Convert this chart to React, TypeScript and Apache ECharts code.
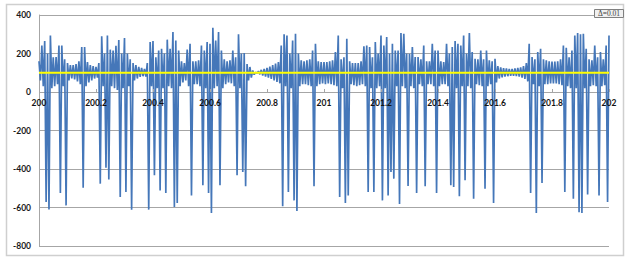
import React, { useEffect, useRef } from "react";
import * as echarts from "echarts";

// x grid: starts at 200, step 0.01 (upper sample at x, lower sample half a step later)
const X_START = 200;
const X_STEP = 0.01;
const xTicks = [200, 200.2, 200.4, 200.6, 200.8, 201, 201.2, 201.4, 201.6, 201.8, 202];
const yTicks = [-800, -600, -400, -200, 0, 200, 400];
const refLevel = 100;
const deltaLabel = "Δ=0.01";

const hi = [
  160, 242, 265, 200, 294, 180, 182, 242, 242, 170,
  150, 140, 140, 145, 160, 234, 234, 155, 140, 135,
  130, 150, 290, 200, 294, 220, 215, 240, 270, 200,
  280, 200, 170, 150, 140, 130, 125, 120, 150, 260,
  265, 180, 216, 225, 200, 272, 225, 312, 268, 216,
  160, 150, 220, 251, 160, 160, 165, 242, 216, 260,
  251, 334, 268, 312, 216, 170, 160, 165, 216, 180,
  300, 200, 203, 145, 130, 112, 102, 108, 115, 120,
  125, 132, 140, 148, 155, 242, 300, 294, 200, 268,
  303, 200, 165, 160, 165, 170, 216, 251, 160, 155,
  155, 155, 160, 165, 208, 294, 170, 180, 277, 160,
  150, 150, 150, 160, 237, 242, 234, 180, 260, 200,
  294, 242, 286, 200, 251, 216, 216, 306, 303, 200,
  199, 234, 182, 182, 170, 242, 160, 160, 251, 216,
  216, 160, 155, 251, 200, 234, 265, 251, 242, 294,
  200, 306, 208, 173, 170, 216, 170, 216, 165, 160,
  173, 135, 128, 124, 122, 120, 120, 122, 125, 128,
  135, 150, 251, 182, 170, 208, 225, 170, 165, 160,
  158, 158, 160, 170, 242, 230, 180, 216, 294, 306,
  300, 303, 225, 170, 165, 242, 180, 208, 170, 242,
  294,
];

const lo = [
  60, 30, -572, -610, 20, 30, 40, -525, 30, -589,
  60, 70, 65, 55, 40, -497, 30, 50, 60, 70,
  75, -476, 30, -393, -454, 30, 20, 10, -546, 20,
  -520, 30, -611, 60, 70, 78, 82, 80, -611, 30,
  -433, 20, -511, 20, -525, 30, 20, -598, -577, 30,
  50, 60, 30, -537, 40, 40, 30, -485, 20, -525,
  -629, 20, 30, -485, 20, 40, 50, 45, 30, -433,
  20, -416, -490, 60, 75, 90, 98, 92, 85, 80,
  75, 68, 60, 52, 45, -594, 30, -520, 20, -563,
  -618, 30, 40, 40, 35, 30, -490, 30, 40, 45,
  40, 45, 40, 35, 30, -546, 20, -577, -537, 40,
  35, 30, 35, 40, 30, -520, 20, -520, 20, 30,
  -563, 20, -537, -416, -450, 30, -582, 30, 20, -488,
  30, 20, -525, 40, 30, -490, 40, 40, 30, -525,
  30, 40, 40, 30, -485, -494, 20, -542, 30, -459,
  30, 20, -554, 40, 35, 30, -502, 30, 40, -577,
  50, 70, 76, 80, 82, 84, 84, 82, 80, 75,
  68, 55, -525, 40, -629, 30, -473, 40, 40, 45,
  45, 45, 40, 35, -520, 30, 20, -554, 20, -624,
  -629, 20, -532, 30, 35, 30, -537, 30, 35, -571,
];

function buildSeries(): [number, number][] {
  const out: [number, number][] = [];
  for (let i = 0; i < hi.length; i++) {
    const x = X_START + i * X_STEP;
    out.push([+x.toFixed(4), hi[i]]);
    if (i < lo.length) out.push([+(x + X_STEP / 2).toFixed(4), lo[i]]);
  }
  return out;
}

export default function App() {
  const ref = useRef<HTMLDivElement>(null);
  useEffect(() => {
    if (!ref.current) return;
    const chart = echarts.init(ref.current, undefined, { renderer: "svg" });
    const labelFont = { fontFamily: "Lato", fontWeight: "bold" as const, fontSize: 8.5 };
    chart.setOption({
      animation: false,
      backgroundColor: "#ffffff",
      grid: { left: 39, right: 25, top: 15, bottom: 16 },
      xAxis: {
        type: "value",
        z: 10,
        min: xTicks[0],
        max: xTicks[xTicks.length - 1],
        interval: 0.2,
        position: "bottom",
        offset: -154,
        axisLine: { show: false, onZero: false },
        axisTick: { show: true, inside: true, length: 3, lineStyle: { color: "#a6a6a6" } },
        axisLabel: {
          ...labelFont,
          color: "#141414",
          margin: 6,
          formatter: (v: number) => String(Math.round(v * 10) / 10),
        },
        splitLine: { show: false },
      },
      yAxis: {
        type: "value",
        min: yTicks[0],
        max: yTicks[yTicks.length - 1],
        interval: 200,
        axisLine: { show: true, onZero: false, lineStyle: { color: "#a6a6a6", width: 1 } },
        axisTick: { show: false },
        axisLabel: { ...labelFont, color: "#1a1a1a", margin: 8 },
        splitLine: { show: true, lineStyle: { color: "#a6a6a6", width: 1 } },
      },
      series: [
        {
          type: "line",
          data: buildSeries(),
          showSymbol: false,
          symbol: "none",
          lineStyle: { color: "#4577b9", width: 1.7 },
          z: 2,
        },
        {
          type: "line",
          data: [
            [xTicks[0], refLevel],
            [xTicks[xTicks.length - 1], refLevel],
          ],
          showSymbol: false,
          symbol: "none",
          lineStyle: { color: "#ffff00", width: 2 },
          z: 3,
        },
      ],
      graphic: [
        {
          type: "rect",
          shape: { x: 6.5, y: 4.5, width: 617, height: 251 },
          style: { fill: "none", stroke: "#cfcfcf", lineWidth: 1.5 },
          silent: true,
          z: 0,
        },
        {
          type: "rect",
          shape: { x: 594.5, y: 9.5, width: 29, height: 8 },
          style: { fill: "#f0f0f0", stroke: "#808080", lineWidth: 1 },
          z: 10,
        },
        {
          type: "text",
          x: 609,
          y: 13.8,
          style: {
            text: deltaLabel,
            fill: "#404040",
            font: "7.5px 'Liberation Serif'",
            align: "center",
            verticalAlign: "middle",
          },
          z: 11,
        },
      ],
    });
    return () => chart.dispose();
  }, []);
  return (
    <div
      ref={ref}
      style={{ position: "fixed", left: 0, top: 0, width: 634, height: 262 }}
    />
  );
}
